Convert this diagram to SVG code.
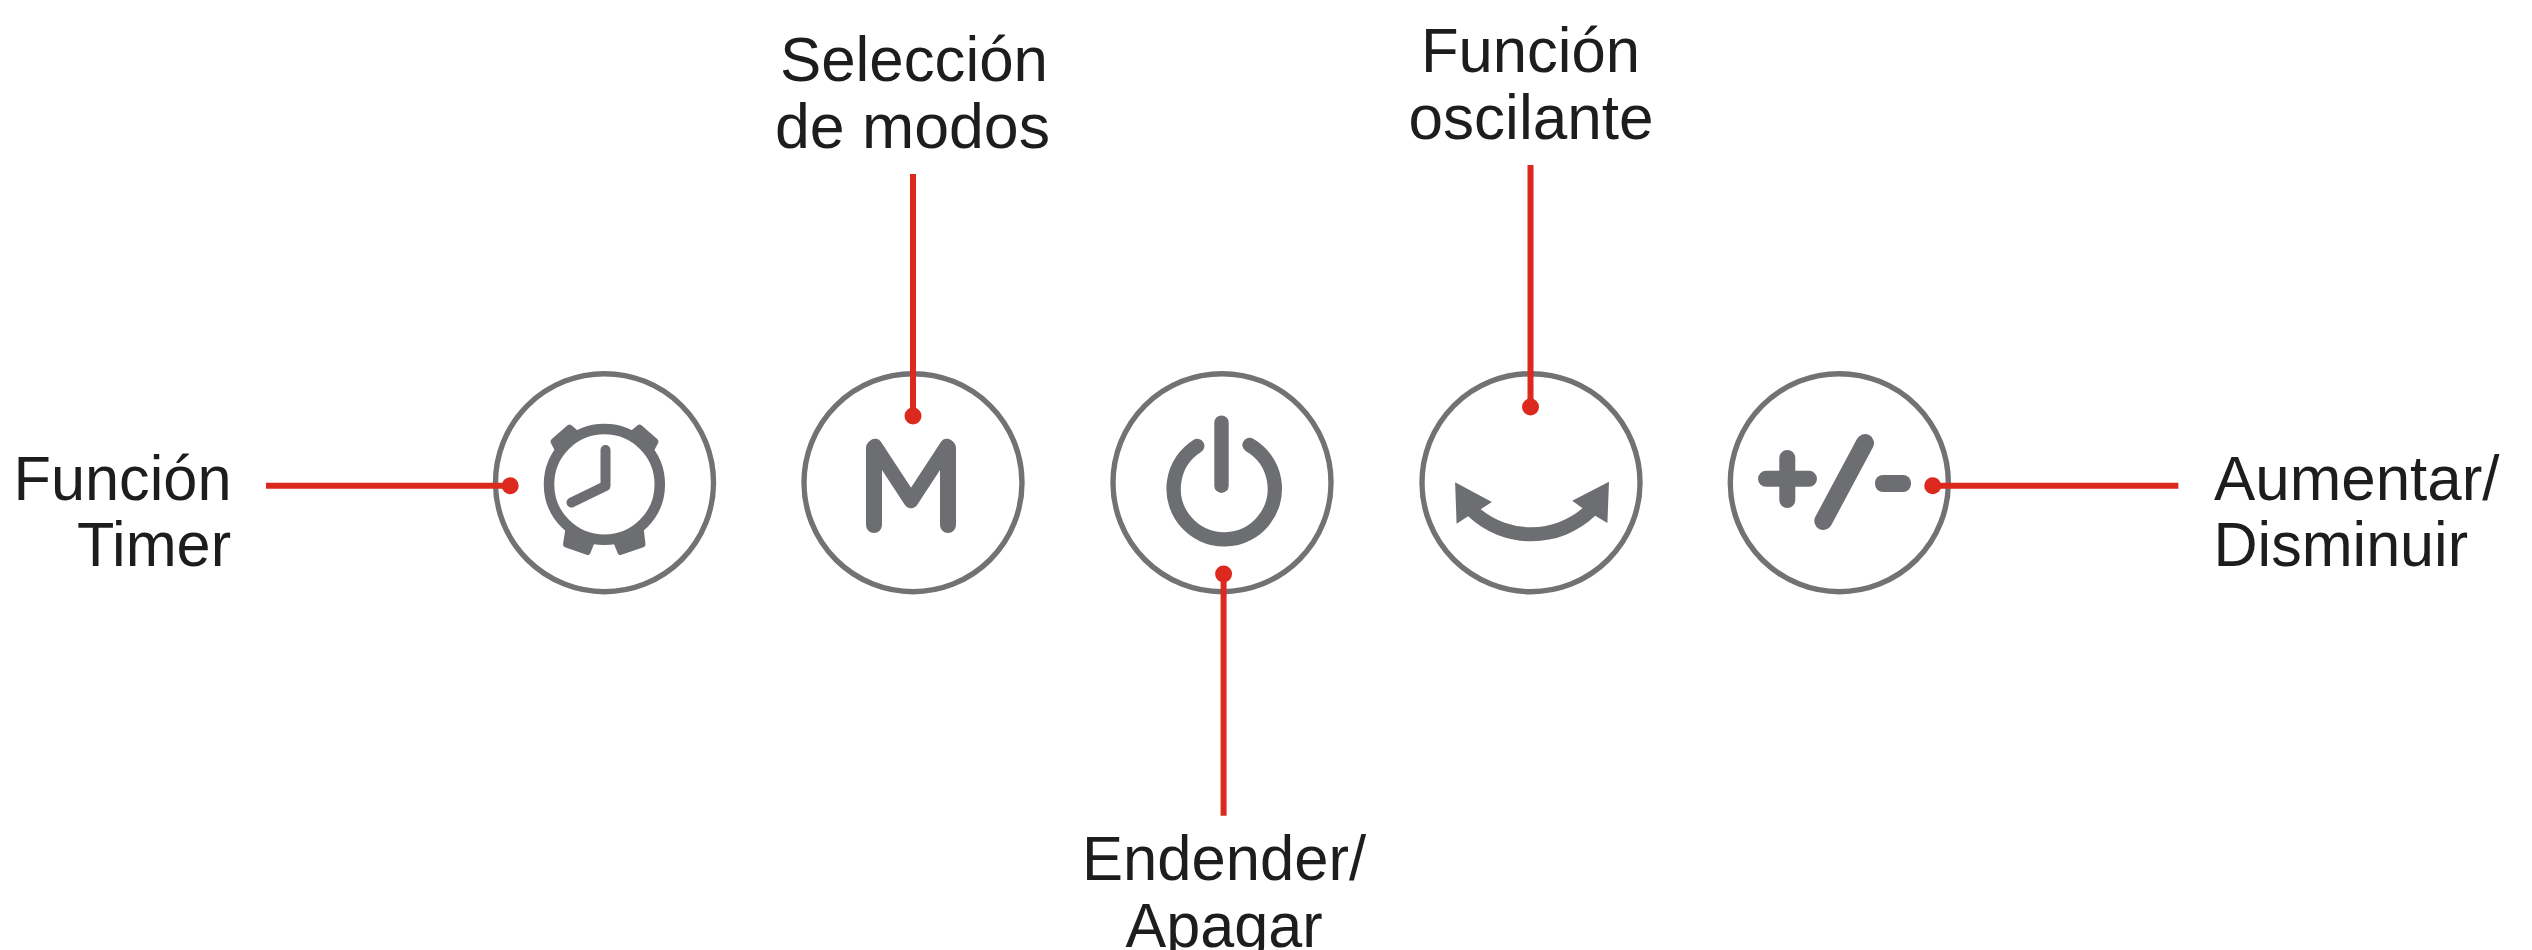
<svg xmlns="http://www.w3.org/2000/svg" width="2532" height="950" viewBox="0 0 2532 950">
<style>
.btn{fill:#fff;stroke:#727275;stroke-width:5.4}
.ic{fill:#6d6e71}
.st{fill:none;stroke:#6d6e71;stroke-linecap:round;stroke-linejoin:round}
.bell{fill:#6d6e71;stroke:#6d6e71;stroke-width:6;stroke-linejoin:round}
.ln{stroke:#dc291e;stroke-width:6;fill:none}
.dot{fill:#dc291e}
text{font-family:"Liberation Sans",Arial,sans-serif;font-size:63px;fill:#1d1d1b}
</style>
<rect width="2532" height="950" fill="#fff"/>
<g id="node-timer">
<circle class="btn" cx="604.5" cy="482.7" r="109"/>
<path class="bell" d="M569.5 427.5L553.5 441.5L558 450L576 433Z"/>
<path class="bell" d="M639.5 427.5L655.5 441.5L651 450L633 433Z"/>
<path class="bell" d="M568 531.7L566 544.5L587.5 552L592 541Z"/>
<path class="bell" d="M641 531.7L642.5 544.5L620.5 552L616 541Z"/>
<circle cx="604.4" cy="484.4" r="55.4" fill="#fff" stroke="#6d6e71" stroke-width="10.5"/>
<path class="st" stroke-width="10" d="M605.5 450V486L571.5 502.5"/>
<text x="13.5" y="499.5" textLength="218" lengthAdjust="spacingAndGlyphs">Función</text>
<text x="77" y="565.8" textLength="154" lengthAdjust="spacingAndGlyphs">Timer</text>
</g>
<g id="node-modos">
<circle class="btn" cx="913" cy="482.7" r="109"/>
<path class="st" stroke-width="16" d="M874 525V448M948 525V448"/>
<path class="st" stroke-width="14.6" d="M875 446L911 501L947 446"/>
<text x="780" y="81" textLength="268" lengthAdjust="spacingAndGlyphs">Selección</text>
<text x="775" y="147.7" textLength="275" lengthAdjust="spacingAndGlyphs">de modos</text>
</g>
<g id="node-power">
<circle class="btn" cx="1222" cy="482.7" r="109"/>
<path class="st" stroke-width="14.4" d="M1221.5 422.7V485.7"/>
<path class="st" stroke-width="14.4" d="M1197.2 446A50.6 50.6 0 1 0 1249.6 445"/>
<text x="1082" y="880" textLength="284" lengthAdjust="spacingAndGlyphs">Endender/</text>
<text x="1125.5" y="947" textLength="197" lengthAdjust="spacingAndGlyphs">Apagar</text>
</g>
<g id="node-oscilante">
<circle class="btn" cx="1531" cy="482.7" r="109"/>
<path class="ic" d="M1455.1 482.3L1491.9 502L1480.7 509.3A79.5 79.5 0 0 0 1582.5 508.3L1572.2 500.7L1609 481.7L1607.4 523L1595.2 515.7A92.3 92.3 0 0 1 1468.1 516.3L1456.6 523.7Z"/>
<text x="1421" y="72" textLength="219" lengthAdjust="spacingAndGlyphs">Función</text>
<text x="1408.5" y="139" textLength="245" lengthAdjust="spacingAndGlyphs">oscilante</text>
</g>
<g id="node-ajuste">
<circle class="btn" cx="1839.3" cy="482.7" r="109"/>
<path class="st" stroke-width="16" d="M1766 478.8H1809M1787.3 458V500"/>
<path class="st" stroke-width="18" d="M1865 443L1823.3 521"/>
<rect class="ic" x="1875" y="475" width="36" height="17" rx="8"/>
<text x="2214" y="499.5" textLength="285.5" lengthAdjust="spacingAndGlyphs">Aumentar/</text>
<text x="2213.5" y="565.8" textLength="254.5" lengthAdjust="spacingAndGlyphs">Disminuir</text>
</g>
<g id="connectors">
<path class="ln" d="M266 485.7H510"/><circle class="dot" cx="510.2" cy="485.7" r="8.5"/>
<path class="ln" d="M913 174V416"/><circle class="dot" cx="913" cy="416" r="8.5"/>
<path class="ln" d="M1223.6 574V815.7"/><circle class="dot" cx="1223.6" cy="574" r="8.5"/>
<path class="ln" d="M1530.5 165V407"/><circle class="dot" cx="1530.5" cy="407" r="8.5"/>
<path class="ln" d="M1932.7 485.7H2178.4"/><circle class="dot" cx="1932.7" cy="485.7" r="8.5"/>
</g>
</svg>
